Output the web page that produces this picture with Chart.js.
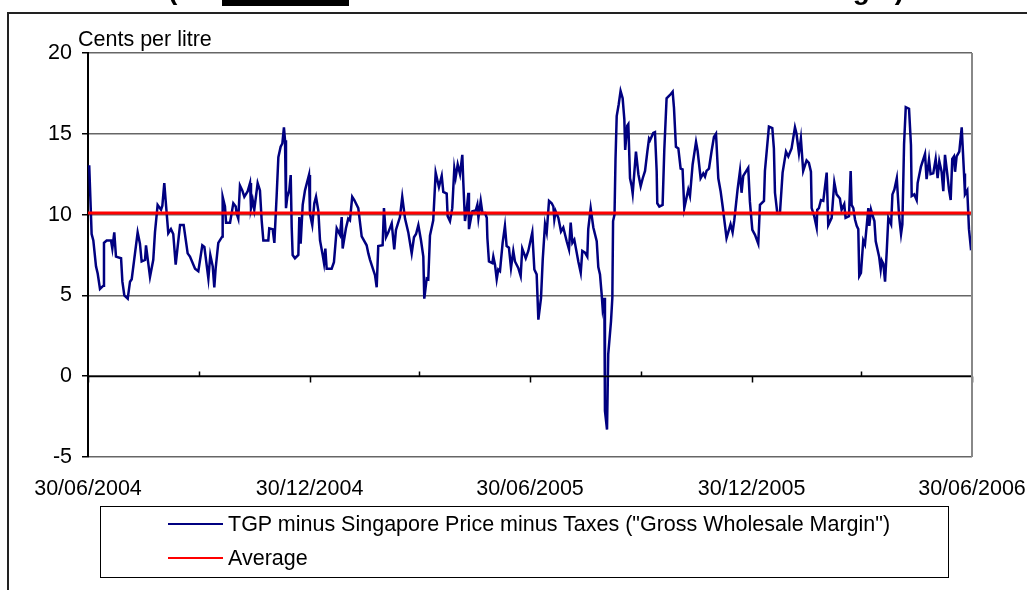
<!DOCTYPE html>
<html lang="en">
<head>
  <meta charset="UTF-8">
  <title>Gross Wholesale Margin</title>
  <script src="https://cdn.jsdelivr.net/npm/chart.js"></script>
  <style>
    body {
      margin: 0;
      width: 1027px;
      height: 590px;
      overflow: hidden;
      background: #fff;
      font-family: Arial, "Liberation Sans", sans-serif;
      position: relative;
    }
    #frame {
      position: absolute;
      left: 7px;
      top: 12px;
      width: 1100px;
      height: 700px;
      border-left: 2px solid #222;
      border-top: 2px solid #222;
    }
    #chart {
      position: absolute;
      left: 0;
      top: 0;
    }
    #unit {
      position: absolute;
      left: 78px;
      top: 27px;
      font-size: 21.5px;
      color: #000;
    }
    #legend {
      position: absolute;
      left: 100px;
      top: 506px;
      width: 849px;
      height: 72px;
      border: 1px solid #000;
      box-sizing: border-box;
    }
    .legend-row {
      position: absolute;
      left: 67px;
      height: 24px;
      display: flex;
      align-items: center;
      font-size: 21.5px;
      white-space: nowrap;
    }
    .legend-row span.swatch {
      display: inline-block;
      width: 55px;
      height: 2px;
      margin-right: 5px;
    }
  </style>
</head>
<body>
  <div id="frame"></div>
  <canvas id="chart" width="1027" height="590"></canvas>
  <div id="unit">Cents per litre</div>
  <div id="legend"></div>

  <script>
    // days after 30/06/2004 and the margin in cents per litre
    const dayOffsets = [
      1, 3.0, 4.4, 6.6, 8.0, 9.9, 12.7, 13.2, 15.4, 19.0, 20.1, 21.7, 23.1, 27.3, 28.4, 30.0, 32.8, 34.7, 36.1, 41.0,
      42.9, 44.3, 47.1, 47.9, 51.2, 53.9, 55.3, 57.5, 60.3, 61.4, 63.0, 64.1, 66.3, 68.5, 70.4, 72.4, 76.0, 79.0, 82.3, 84.2,
      88.4, 91.1, 94.4, 96.1, 99.4, 101.0, 103.0, 104.3, 105.4, 107.6, 110.9, 111.2, 113.1, 114.0, 117.3, 120.0, 122.0, 122.8, 124.1, 125.5,
      127.4, 129.1, 131.9, 133.8, 134.6, 136.0, 137.3, 140.1, 142.0, 143.4, 144.8, 148.9, 149.7, 152.5, 153.9, 155.8, 157.2, 159.1, 160.5, 161.8,
      162.7, 163.5, 164.6, 166.2, 167.4, 168.2, 169.0, 170.9, 173.7, 174.5, 175.6, 177.3, 179.2, 182.5, 183.3, 185.2, 186.9, 188.3, 190.2, 191.6,
      193.8, 194.9, 196.0, 197.1, 201.2, 203.1, 205.4, 208.1, 209.5, 210.3, 213.0, 214.9, 216.3, 218.2, 219.9, 223.2, 226.0, 230.1, 231.5, 232.9,
      237.0, 238.4, 239.7, 243.3, 244.4, 246.1, 248.0, 250.8, 252.9, 254.3, 257.6, 259.5, 261.8, 264.5, 267.3, 269.2, 270.9, 272.8, 275.0, 276.9,
      277.7, 279.7, 281.0, 282.4, 285.1, 287.1, 289.8, 292.1, 293.4, 296.2, 297.0, 298.9, 300.8, 302.5, 303.6, 305.3, 307.2, 309.1, 309.9, 311.3,
      312.7, 314.1, 314.6, 316.3, 317.4, 320.2, 321.5, 322.4, 324.3, 325.7, 327.9, 329.3, 329.8, 331.1, 333.9, 334.7, 336.1, 337.5, 338.8, 340.2,
      342.4, 344.3, 345.7, 347.6, 349.3, 351.2, 352.6, 355.3, 357.3, 358.6, 361.5, 363.6, 366.9, 368.6, 370.5, 371.9, 374.1, 375.5, 377.4, 378.8,
      380.7, 382.9, 384.3, 385.1, 386.2, 388.4, 390.6, 392.5, 395.3, 397.2, 398.6, 400.0, 401.6, 404.9, 406.9, 408.2, 410.4, 412.3, 413.1, 415.1,
      417.3, 420.1, 421.4, 422.8, 424.2, 425.0, 426.4, 426.9, 428.6, 429.6, 431.9, 433.0, 433.6, 434.8, 435.6, 436.6, 438.2, 439.8, 441.5, 442.9,
      443.6, 445.3, 446.2, 447.6, 449.0, 449.8, 452.5, 454.5, 456.4, 458.1, 460.0, 461.9, 463.3, 464.1, 466.8, 468.2, 469.6, 470.1, 471.8, 474.5,
      475.9, 477.8, 480.6, 482.8, 483.9, 485.5, 487.5, 489.4, 491.0, 492.4, 495.7, 497.1, 499.3, 502.1, 503.4, 505.9, 508.1, 509.5, 510.8, 512.8,
      515.0, 516.9, 518.6, 520.5, 522.4, 524.1, 527.3, 530.6, 532.3, 533.7, 536.4, 538.4, 539.7, 541.1, 545.2, 546.6, 548.6, 550.8, 553.5, 554.9,
      558.2, 559.0, 562.3, 565.1, 566.4, 567.3, 569.2, 571.4, 573.6, 576.4, 578.3, 581.0, 583.8, 585.1, 587.1, 588.7, 590.6, 593.4, 595.3, 597.0,
      597.6, 599.7, 601.7, 602.2, 603.6, 605.3, 607.2, 610.0, 611.3, 614.1, 616.3, 618.2, 620.9, 622.3, 624.5, 625.6, 628.4, 629.8, 630.6, 632.0,
      633.4, 634.8, 636.1, 636.9, 638.3, 640.2, 641.6, 644.4, 645.2, 646.6, 647.7, 649.4, 650.5, 653.3, 654.6, 655.5, 656.8, 658.2, 659.6, 660.9,
      663.2, 664.3, 665.9, 667.9, 669.8, 671.4, 672.5, 673.9, 675.3, 678.0, 679.6, 680.2, 682.3, 684.3, 685.1, 687.8, 691.2, 692.5, 694.5, 695.8,
      698.0, 700.0, 701.6, 703.0, 704.9, 706.3, 707.7, 709.6, 711.0, 712.4, 713.7, 715.1, 716.0, 717.3, 719.5, 721.5, 723.4, 724.2, 726.1, 727.5,
      729.1, 730
    ];
    const margin = [
      13.05, 8.8, 8.4, 6.8, 6.35, 5.4, 5.6, 8.25, 8.4, 8.4, 7.9, 8.9, 7.4, 7.3, 5.85, 5.0, 4.8, 5.85, 6.0, 8.9,
      8.2, 7.1, 7.2, 8.1, 6.15, 7.2, 8.9, 10.6, 10.3, 10.55, 11.95, 10.9, 8.85, 9.1, 8.8, 6.9, 9.35, 9.35, 7.6, 7.4,
      6.65, 6.5, 8.1, 8.0, 6.05, 7.5, 6.8, 5.5, 6.65, 8.25, 8.65, 11.1, 10.5, 9.5, 9.5, 10.7, 10.5, 10.05, 9.75, 11.8,
      11.5, 11.1, 11.45, 11.95, 10.4, 10.9, 10.3, 11.95, 11.5, 9.65, 8.4, 8.4, 9.15, 9.1, 8.25, 11.2, 13.55, 14.2, 14.4, 15.4,
      14.6, 10.4, 11.1, 11.5, 12.45, 9.25, 7.5, 7.3, 7.5, 9.85, 8.2, 10.6, 11.5, 12.45, 10.05, 9.35, 10.7, 11.1, 10.25, 8.4,
      7.5, 7.0, 7.9, 6.65, 6.65, 7.05, 9.15, 8.75, 9.85, 7.9, 9.15, 9.75, 9.65, 11.1, 10.9, 10.4, 8.65, 8.1, 7.6, 7.2,
      6.25, 5.5, 8.05, 8.1, 10.4, 8.6, 8.9, 9.45, 7.85, 9.05, 9.85, 11.1, 9.75, 8.9, 7.6, 8.6, 8.8, 9.35, 8.4, 7.4,
      4.8, 6.05, 6.0, 8.7, 9.65, 12.6, 11.7, 12.4, 11.4, 11.3, 9.9, 9.6, 10.4, 12.85, 12.3, 13.1, 12.5, 13.7, 12.05, 9.6,
      10.3, 11.35, 9.1, 9.8, 10.2, 10.25, 10.6, 9.8, 10.85, 10.1, 10.1, 9.8, 8.55, 7.1, 7.0, 7.4, 6.9, 6.0, 6.6, 6.5,
      8.25, 9.3, 8.05, 7.95, 6.7, 7.75, 7.1, 6.7, 6.2, 7.9, 7.3, 7.75, 8.9, 6.6, 6.3, 3.5, 4.85, 7.2, 9.4, 8.9,
      10.85, 10.7, 10.5, 9.7, 10.2, 9.8, 8.95, 9.2, 8.35, 7.85, 9.5, 8.25, 8.45, 7.1, 6.4, 7.75, 7.65, 7.4, 9.1, 10.4,
      9.2, 8.35, 6.75, 6.3, 5.05, 4.2, 4.85, -2.15, -3.3, 1.35, 3.4, 4.85, 9.6, 10.0, 13.4, 16.1, 16.8, 17.65, 17.2, 15.9,
      14.0, 15.5, 15.6, 12.25, 11.75, 11.3, 13.9, 12.5, 11.75, 12.25, 12.7, 13.9, 14.7, 14.6, 15.05, 15.1, 12.7, 10.7, 10.5, 10.6,
      14.0, 17.2, 17.4, 17.6, 16.6, 14.2, 14.1, 12.85, 12.8, 10.4, 11.55, 11.15, 13.1, 14.5, 13.95, 12.25, 12.55, 12.35, 12.7, 12.85,
      13.95, 14.8, 15.0, 12.25, 11.45, 10.5, 8.55, 9.4, 8.9, 9.65, 11.55, 12.7, 11.35, 12.4, 12.9, 10.8, 9.05, 8.75, 8.2, 10.6,
      10.85, 12.7, 15.45, 15.35, 14.1, 11.35, 10.1, 10.1, 12.6, 13.9, 13.6, 14.1, 15.4, 15.0, 13.8, 14.7, 12.7, 13.35, 13.2, 12.65,
      10.4, 9.9, 9.2, 10.3, 10.4, 10.9, 10.85, 12.6, 9.35, 9.8, 12.0, 11.25, 11.0, 10.3, 10.65, 9.8, 9.9, 12.7, 10.6, 10.4,
      9.7, 9.3, 9.1, 6.2, 6.4, 8.4, 8.15, 10.4, 9.3, 10.3, 10.0, 9.6, 8.35, 7.4, 6.6, 7.15, 6.95, 5.85, 7.75, 9.8,
      9.4, 11.25, 11.55, 12.25, 9.9, 8.8, 9.4, 14.35, 16.65, 16.55, 14.3, 11.15, 11.25, 10.9, 11.95, 12.95, 13.75, 12.2, 13.4, 12.5,
      12.55, 13.45, 12.25, 13.3, 12.65, 11.45, 13.7, 12.5, 11.55, 10.9, 13.45, 13.6, 12.65, 13.6, 13.9, 15.4, 12.55, 11.25, 11.5, 9.1,
      7.9, 7.95
    ];
    const averageMargin = 10.1;

    const seriesLabel = 'TGP minus Singapore Price minus Taxes ("Gross Wholesale Margin")';
    const averageLabel = 'Average';

    // axis labels every six months, small ticks every three
    const labelDays = [0, 183, 365, 548, 730];
    const minorDays = [92, 273, 457, 638];
    const startDate = Date.UTC(2004, 5, 30);

    function formatDay(d) {
      const dt = new Date(startDate + Math.round(d) * 86400000);
      const dd = String(dt.getUTCDate()).padStart(2, '0');
      const mm = String(dt.getUTCMonth() + 1).padStart(2, '0');
      return dd + '/' + mm + '/' + dt.getUTCFullYear();
    }

    const marginPoints = dayOffsets.map((d, i) => ({ x: d, y: margin[i] }));
    const averagePoints = [{ x: 0, y: averageMargin }, { x: 730, y: averageMargin }];

    // zero axis with its ticks, right edge of the plot, cut-off heading
    const extras = {
      id: 'extras',
      afterDatasetsDraw(chart) {
        const ctx = chart.ctx;
        const xs = chart.scales.x;
        const ys = chart.scales.y;
        const area = chart.chartArea;
        const y0 = Math.round(ys.getPixelForValue(0)) + 0.5;
        ctx.save();
        ctx.strokeStyle = '#000';
        ctx.lineWidth = 1.5;
        ctx.beginPath();
        ctx.moveTo(area.left, y0);
        ctx.lineTo(area.right, y0);
        labelDays.forEach(d => {
          const px = Math.round(xs.getPixelForValue(d)) + 0.5;
          ctx.moveTo(px, y0);
          ctx.lineTo(px, y0 + 6);
        });
        minorDays.forEach(d => {
          const px = Math.round(xs.getPixelForValue(d)) + 0.5;
          ctx.moveTo(px, y0);
          ctx.lineTo(px, y0 - 5);
        });
        ctx.stroke();
        ctx.strokeStyle = '#888';
        ctx.lineWidth = 2;
        ctx.beginPath();
        ctx.moveTo(area.right, area.top);
        ctx.lineTo(area.right, area.bottom);
        ctx.stroke();
        ctx.restore();
      },
      afterDraw(chart) {
        // heading sits above the crop, only its descenders show
        const ctx = chart.ctx;
        ctx.save();
        ctx.fillStyle = '#000';
        ctx.font = 'bold 28px Arial';
        ctx.textBaseline = 'alphabetic';
        const base = -Math.ceil(ctx.measureText('M').actualBoundingBoxDescent) - 1;
        ctx.textAlign = 'left';
        ctx.fillText('(', 168, base);
        ctx.fillRect(222, 0, 127, 6);
        ctx.textAlign = 'right';
        ctx.fillText('Gross Wholesale Margin)', 904, base);
        ctx.restore();
      }
    };

    const chart = new Chart(document.getElementById('chart').getContext('2d'), {
      type: 'line',
      data: {
        datasets: [{
          label: seriesLabel,
          data: marginPoints,
          borderColor: '#000080',
          borderWidth: 2.5,
          pointRadius: 0,
          tension: 0,
          fill: false,
          order: 1,
        }, {
          label: averageLabel,
          data: averagePoints,
          borderColor: '#ff0000',
          borderWidth: 3,
          pointRadius: 0,
          fill: false,
          order: 0,
        }],
      },
      options: {
        responsive: false,
        animation: false,
        layout: { padding: { top: 53, right: 55, bottom: 83, left: 0 } },
        plugins: { legend: { display: false }, tooltip: { enabled: false } },
        scales: {
          x: {
            type: 'linear',
            min: 0,
            max: 730,
            afterBuildTicks: s => { s.ticks = labelDays.map(v => ({ value: v })); },
            afterFit: s => { s.height = 50; s.paddingLeft = 0; s.paddingRight = 0; },
            grid: { display: false, drawTicks: false },
            border: { display: false },
            ticks: {
              autoSkip: false,
              maxRotation: 0,
              padding: 19,
              color: '#000',
              font: { family: 'Arial', size: 21.5 },
              callback: v => formatDay(v),
            },
          },
          y: {
            min: -5,
            max: 20,
            afterFit: s => { s.width = 88; s.paddingTop = 0; s.paddingBottom = 0; },
            grid: { color: '#666', lineWidth: 1.5, tickColor: '#000', tickLength: 6 },
            border: { color: '#000', width: 2 },
            ticks: {
              stepSize: 5,
              padding: 10,
              color: '#000',
              font: { family: 'Arial', size: 21.5 },
            },
          },
        },
      },
      plugins: [extras],
    });

    // legend box under the chart
    const legend = document.getElementById('legend');
    chart.data.datasets.forEach((ds, i) => {
      const row = document.createElement('div');
      row.className = 'legend-row';
      row.style.top = (5 + i * 34) + 'px';
      const swatch = document.createElement('span');
      swatch.className = 'swatch';
      swatch.style.background = ds.borderColor;
      row.appendChild(swatch);
      row.appendChild(document.createTextNode(ds.label));
      legend.appendChild(row);
    });
  </script>
</body>
</html>
